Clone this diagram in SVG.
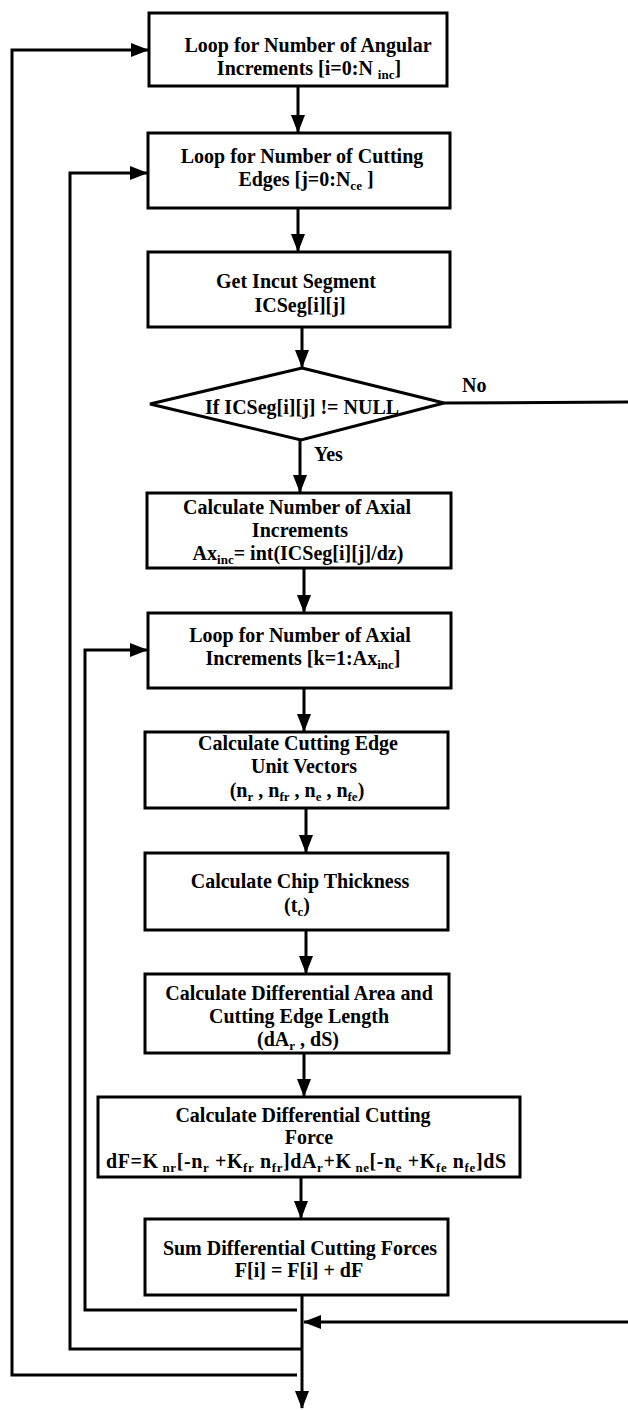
<svg xmlns="http://www.w3.org/2000/svg" width="628" height="1410" viewBox="0 0 628 1410">
  <style>
    .box { fill: #ffffff; stroke: #000000; stroke-width: 3; }
    .wire { fill: none; stroke: #000000; stroke-width: 3; }
    .lbl { font-family: "Liberation Serif", "Times New Roman", serif; font-weight: bold; font-size: 20px; fill: #000000; text-anchor: middle; }
    .tag { font-family: "Liberation Serif", "Times New Roman", serif; font-weight: bold; font-size: 20px; fill: #000000; }
    .sub { font-size: 13px; }
  </style>
  <defs>
    <marker id="head" viewBox="0 0 18 14" refX="17" refY="7" markerWidth="18" markerHeight="14" markerUnits="userSpaceOnUse" orient="auto">
      <path d="M0,0 L18,7 L0,14 z" fill="#000000"/>
    </marker>
  </defs>
  <rect x="0" y="0" width="628" height="1410" fill="#ffffff"/>

  <!-- connectors -->
  <g id="connectors">
    <line class="wire" x1="298" y1="86" x2="298" y2="132" marker-end="url(#head)"/>
    <line class="wire" x1="298" y1="208" x2="298" y2="251" marker-end="url(#head)"/>
    <line class="wire" x1="302" y1="327" x2="302" y2="367" marker-end="url(#head)"/>
    <line class="wire" x1="300" y1="440" x2="300" y2="492" marker-end="url(#head)"/>
    <line class="wire" x1="304" y1="568" x2="304" y2="612" marker-end="url(#head)"/>
    <line class="wire" x1="304" y1="688" x2="304" y2="731" marker-end="url(#head)"/>
    <line class="wire" x1="306" y1="808" x2="306" y2="852" marker-end="url(#head)"/>
    <line class="wire" x1="306" y1="930" x2="306" y2="973" marker-end="url(#head)"/>
    <line class="wire" x1="304" y1="1053" x2="304" y2="1096" marker-end="url(#head)"/>
    <line class="wire" x1="301" y1="1177" x2="301" y2="1218" marker-end="url(#head)"/>
    <line class="wire" x1="302" y1="1295" x2="302" y2="1408" marker-end="url(#head)"/>
    <!-- "No" branch leaves to the right and re-enters below the loop body -->
    <line class="wire" x1="444" y1="403" x2="628" y2="402"/>
    <line class="wire" x1="628" y1="1322" x2="304" y2="1322" marker-end="url(#head)"/>
    <!-- axial loop return -->
    <polyline class="wire" points="297,1310 85,1310 85,650 147,650" marker-end="url(#head)"/>
    <!-- cutting edge loop return -->
    <polyline class="wire" points="302,1349 70,1349 70,173 147,173" marker-end="url(#head)"/>
    <!-- angular loop return -->
    <polyline class="wire" points="297,1375 12,1375 12,50 148,50" marker-end="url(#head)"/>
    <text class="tag" x="462" y="392">No</text>
    <text class="tag" x="314" y="461">Yes</text>
  </g>

  <g id="loop-angular">
    <rect class="box" x="149" y="13" width="298" height="73"/>
    <text class="lbl" x="308" y="52">Loop for Number of Angular</text>
    <text class="lbl" x="309" y="75">Increments [i=0:N <tspan class="sub" dy="4">inc</tspan><tspan dy="-4">]</tspan></text>
  </g>

  <g id="loop-edges">
    <rect class="box" x="148" y="133" width="302" height="75"/>
    <text class="lbl" x="302" y="163">Loop for Number of Cutting</text>
    <text class="lbl" x="306" y="186">Edges [j=0:N<tspan class="sub" dy="4">ce</tspan><tspan dy="-4"> ]</tspan></text>
  </g>

  <g id="get-segment">
    <rect class="box" x="148" y="252" width="302" height="75"/>
    <text class="lbl" x="296" y="288">Get Incut Segment</text>
    <text class="lbl" x="300" y="312">ICSeg[i][j]</text>
  </g>

  <g id="segment-check">
    <polygon class="box" points="302,368 444,403 301,440 150,404"/>
    <text class="lbl" x="302" y="414">If ICSeg[i][j] != NULL</text>
  </g>

  <g id="axial-count">
    <rect class="box" x="147" y="493" width="304" height="75"/>
    <text class="lbl" x="297" y="514">Calculate Number of Axial</text>
    <text class="lbl" x="300" y="537">Increments</text>
    <text class="lbl" x="298" y="560">Ax<tspan class="sub" dy="4">inc</tspan><tspan dy="-4">= int(ICSeg[i][j]/dz)</tspan></text>
  </g>

  <g id="loop-axial">
    <rect class="box" x="148" y="613" width="303" height="75"/>
    <text class="lbl" x="300" y="642">Loop for Number of Axial</text>
    <text class="lbl" x="303" y="665">Increments [k=1:Ax<tspan class="sub" dy="4">inc</tspan><tspan dy="-4">]</tspan></text>
  </g>

  <g id="unit-vectors">
    <rect class="box" x="145" y="732" width="303" height="76"/>
    <text class="lbl" x="298" y="750">Calculate Cutting Edge</text>
    <text class="lbl" x="304" y="773">Unit Vectors</text>
    <text class="lbl" x="297" y="797">(n<tspan class="sub" dy="4">r</tspan><tspan dy="-4"> , n</tspan><tspan class="sub" dy="4">fr</tspan><tspan dy="-4"> , n</tspan><tspan class="sub" dy="4">e</tspan><tspan dy="-4"> , n</tspan><tspan class="sub" dy="4">fe</tspan><tspan dy="-4">)</tspan></text>
  </g>

  <g id="chip-thickness">
    <rect class="box" x="145" y="853" width="303" height="77"/>
    <text class="lbl" x="300" y="888">Calculate Chip Thickness</text>
    <text class="lbl" x="297" y="912">(t<tspan class="sub" dy="4">c</tspan><tspan dy="-4">)</tspan></text>
  </g>

  <g id="diff-area">
    <rect class="box" x="145" y="974" width="304" height="79"/>
    <text class="lbl" x="299" y="1000">Calculate Differential Area and</text>
    <text class="lbl" x="299" y="1023">Cutting Edge Length</text>
    <text class="lbl" x="298" y="1046">(dA<tspan class="sub" dy="4">r</tspan><tspan dy="-4"> , dS)</tspan></text>
  </g>

  <g id="diff-force">
    <rect class="box" x="98" y="1097" width="422" height="80"/>
    <text class="lbl" x="303" y="1122">Calculate Differential Cutting</text>
    <text class="lbl" x="309" y="1144">Force</text>
    <text class="lbl" x="306" y="1168" textLength="400" lengthAdjust="spacing">dF=K<tspan class="sub" dy="4"> nr</tspan><tspan dy="-4">[-n</tspan><tspan class="sub" dy="4">r</tspan><tspan dy="-4"> +K</tspan><tspan class="sub" dy="4">fr</tspan><tspan dy="-4"> n</tspan><tspan class="sub" dy="4">fr</tspan><tspan dy="-4">]dA</tspan><tspan class="sub" dy="4">r</tspan><tspan dy="-4">+K</tspan><tspan class="sub" dy="4"> ne</tspan><tspan dy="-4">[-n</tspan><tspan class="sub" dy="4">e</tspan><tspan dy="-4"> +K</tspan><tspan class="sub" dy="4">fe</tspan><tspan dy="-4"> n</tspan><tspan class="sub" dy="4">fe</tspan><tspan dy="-4">]dS</tspan></text>
  </g>

  <g id="sum-forces">
    <rect class="box" x="145" y="1219" width="303" height="76"/>
    <text class="lbl" x="300" y="1255">Sum Differential Cutting Forces</text>
    <text class="lbl" x="299" y="1277">F[i] = F[i] + dF</text>
  </g>
</svg>
